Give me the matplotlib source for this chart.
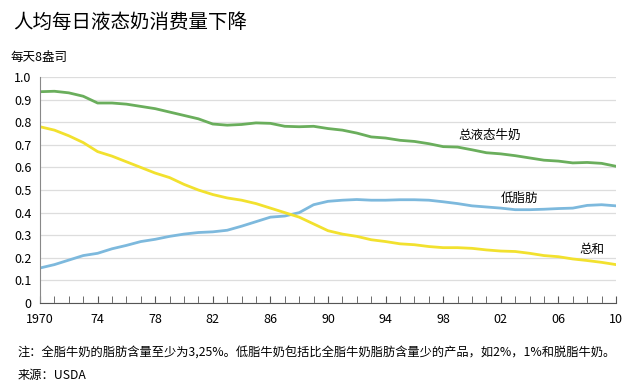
import matplotlib.pyplot as plt

plt.rcParams['font.family'] = ['Noto Sans CJK SC', 'DejaVu Sans']

years = list(range(1970, 2011))

total = [0.935, 0.937, 0.930, 0.915, 0.885, 0.885, 0.880, 0.870, 0.860, 0.845,
         0.830, 0.815, 0.792, 0.787, 0.790, 0.797, 0.795, 0.782, 0.780, 0.782,
         0.772, 0.765, 0.752, 0.735, 0.730, 0.720, 0.715, 0.705, 0.692, 0.690,
         0.678, 0.665, 0.660, 0.652, 0.642, 0.632, 0.628, 0.620, 0.622, 0.618,
         0.605]

lowfat = [0.155, 0.170, 0.190, 0.210, 0.220, 0.240, 0.255, 0.272, 0.282, 0.295,
          0.305, 0.312, 0.315, 0.322, 0.340, 0.360, 0.380, 0.385, 0.400, 0.435,
          0.450, 0.455, 0.458, 0.455, 0.455, 0.457, 0.457, 0.455, 0.448, 0.440,
          0.430, 0.425, 0.420, 0.413, 0.413, 0.415, 0.418, 0.420, 0.432, 0.435,
          0.430]

whole = [0.780, 0.765, 0.740, 0.710, 0.670, 0.650, 0.625, 0.600, 0.575, 0.555,
         0.525, 0.500, 0.480, 0.465, 0.455, 0.440, 0.420, 0.400, 0.380, 0.350,
         0.320, 0.305, 0.295, 0.280, 0.272, 0.262, 0.258, 0.250, 0.245, 0.245,
         0.242, 0.235, 0.230, 0.228, 0.220, 0.210, 0.205, 0.195, 0.188, 0.180,
         0.170]

xtick_years = [1970, 1974, 1978, 1982, 1986, 1990, 1994, 1998, 2002, 2006, 2010]
xtick_labels = ['1970', '74', '78', '82', '86', '90', '94', '98', '02', '06', '10']
yticks = [i / 10 for i in range(11)]
ytick_labels = ['0'] + [f'{v:.1f}' for v in yticks[1:]]

fig = plt.figure(figsize=(6.4, 3.89), dpi=100)
ax = fig.add_axes([0.0625, 0.221, 0.9, 0.581])

ax.plot(years, total, color='#6aae5c', lw=2.0)
ax.plot(years, lowfat, color='#7db9dd', lw=2.0)
ax.plot(years, whole, color='#f2e12e', lw=2.0)

ax.set_xlim(1970, 2010)
ax.set_ylim(0, 1.0)
ax.set_yticks(yticks)
ax.set_yticklabels(ytick_labels)
ax.set_xticks(xtick_years)
ax.set_xticklabels(xtick_labels)
ax.set_xticks(years, minor=True)
ax.tick_params(axis='x', which='both', direction='in', length=5, color='#555555',
               labelsize=9, pad=7)
ax.tick_params(axis='y', length=0, labelsize=9, pad=6)
ax.yaxis.grid(True, color='#dddddd', lw=0.9)
ax.set_axisbelow(True)
for s in ['top', 'right']:
    ax.spines[s].set_visible(False)
ax.spines['left'].set_color('#888888')
ax.spines['bottom'].set_color('#555555')

ax.text(2001.25, 0.743, '总液态牛奶', fontsize=9, ha='center', va='center')
ax.text(2003.3, 0.465, '低脂肪', fontsize=9, ha='center', va='center')
ax.text(2008.3, 0.235, '总和', fontsize=9, ha='center', va='center')

fig.text(0.02, 0.942, '人均每日液态奶消费量下降', fontsize=14, va='center')
fig.text(0.017, 0.851, '每天8盎司', fontsize=9, va='center')
fig.text(0.028, 0.093, '注：全脂牛奶的脂肪含量至少为3,25%。低脂牛奶包括比全脂牛奶脂肪含量少的产品，如2%，1%和脱脂牛奶。',
         fontsize=8.8, va='center')
fig.text(0.028, 0.035, '来源：USDA', fontsize=8.8, va='center')

fig.savefig('out.png', dpi=100)
